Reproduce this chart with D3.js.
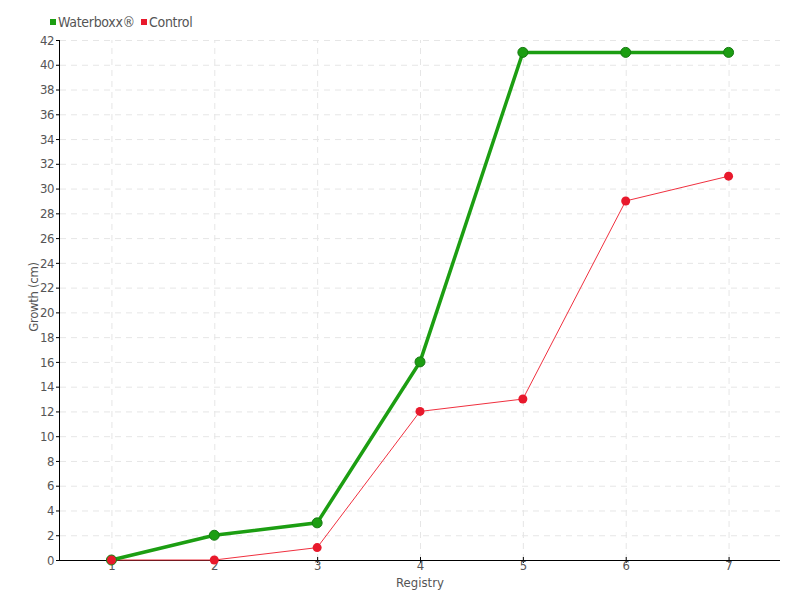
<!DOCTYPE html>
<html>
<head>
<meta charset="utf-8">
<script src="https://cdn.jsdelivr.net/npm/d3@7"></script>
<style>
  body { margin: 0; background: #fff; }
  text { font-family: "DejaVu Sans Condensed", "DejaVu Sans", sans-serif; fill: #555; }
  .grid line { stroke: #e6e6e6; stroke-dasharray: 6,5; }
  .grid path { display: none; }
</style>
</head>
<body>
<div id="chart"></div>
<script>
var registry = ["1", "2", "3", "4", "5", "6", "7"];
var waterboxx = [0, 2, 3, 16, 41, 41, 41];
var control = [0, 0, 1, 12, 13, 29, 31];
var yTicks = d3.range(0, 43, 2);

var width = 800, height = 600;
var mLeft = 60, mRight = 780, mTop = 40, mBottom = 560;

var svg = d3.select("#chart").append("svg")
    .attr("width", width)
    .attr("height", height);

var xScale = d3.scalePoint()
    .domain(registry)
    .range([mLeft, mRight])
    .padding(0.5);

var yScale = d3.scaleLinear()
    .domain([0, 42])
    .range([mBottom, mTop]);

// grid
svg.append("g")
    .attr("class", "grid")
    .attr("transform", "translate(" + mLeft + ",0)")
    .call(d3.axisLeft(yScale).tickValues(yTicks).tickSize(-(mRight - mLeft)).tickFormat(""));

svg.append("g")
    .attr("class", "grid")
    .attr("transform", "translate(0," + mBottom + ")")
    .call(d3.axisBottom(xScale).tickSize(-(mBottom - mTop)).tickFormat(""));

// axes
var yAxis = svg.append("g")
    .attr("transform", "translate(" + mLeft + ",0)")
    .call(d3.axisLeft(yScale).tickValues(yTicks).tickSize(4).tickPadding(2));
yAxis.select(".domain").attr("stroke", "#000").attr("d", "M-0.5," + mTop + "V" + mBottom);
yAxis.selectAll("text").style("font-size", "13px").style("letter-spacing", "-0.5px");

var xAxis = svg.append("g")
    .attr("transform", "translate(0," + mBottom + ")")
    .call(d3.axisBottom(xScale).tickSize(4).tickPadding(-3));
xAxis.select(".domain").attr("stroke", "#000").attr("d", "M" + mLeft + ",0.5H" + mRight);
xAxis.selectAll(".tick line").attr("y1", -3).attr("y2", 3);
xAxis.selectAll("text").style("font-size", "13px");

// axis titles
svg.append("text")
    .attr("x", (mLeft + mRight) / 2)
    .attr("y", 587)
    .attr("text-anchor", "middle")
    .style("font-size", "13px")
    .text("Registry");

svg.append("text")
    .attr("transform", "translate(38,297) rotate(-90)")
    .attr("text-anchor", "middle")
    .style("font-size", "13px")
    .style("letter-spacing", "-0.3px")
    .text("Growth (cm)");

// lines
var line = function(values) {
    return d3.line()
        .x(function(d, i) { return xScale(registry[i]); })
        .y(function(d) { return yScale(d); })(values);
};

svg.append("path")
    .attr("d", line(control))
    .attr("fill", "none")
    .attr("stroke", "#f0303f")
    .attr("stroke-width", 1);

svg.append("path")
    .attr("d", line(waterboxx))
    .attr("fill", "none")
    .attr("stroke", "#1c9e12")
    .attr("stroke-width", 3.5);

svg.selectAll(".wdot")
    .data(waterboxx)
    .enter()
    .append("circle")
    .attr("class", "wdot")
    .attr("cx", function(d, i) { return xScale(registry[i]); })
    .attr("cy", function(d) { return yScale(d); })
    .attr("r", 5)
    .attr("fill", "#1c9e12")
    .attr("stroke", "#177a12")
    .attr("stroke-width", 1);

svg.selectAll(".cdot")
    .data(control)
    .enter()
    .append("circle")
    .attr("class", "cdot")
    .attr("cx", function(d, i) { return xScale(registry[i]); })
    .attr("cy", function(d) { return yScale(d); })
    .attr("r", 4.5)
    .attr("fill", "#e8192c");

// legend
var legend = [
    { name: "Waterboxx\u00ae", color: "#1c9e12", x: 50 },
    { name: "Control", color: "#e8192c", x: 141 }
];
var lg = svg.selectAll(".legend")
    .data(legend)
    .enter()
    .append("g")
    .attr("transform", function(d) { return "translate(" + d.x + ",22)"; });
lg.append("rect")
    .attr("x", 0).attr("y", -3)
    .attr("width", 6).attr("height", 6)
    .attr("fill", function(d) { return d.color; });
lg.append("text")
    .attr("x", 8).attr("y", 5)
    .style("font-size", "14px")
    .style("letter-spacing", "-0.3px")
    .text(function(d) { return d.name; });
</script>
</body>
</html>
